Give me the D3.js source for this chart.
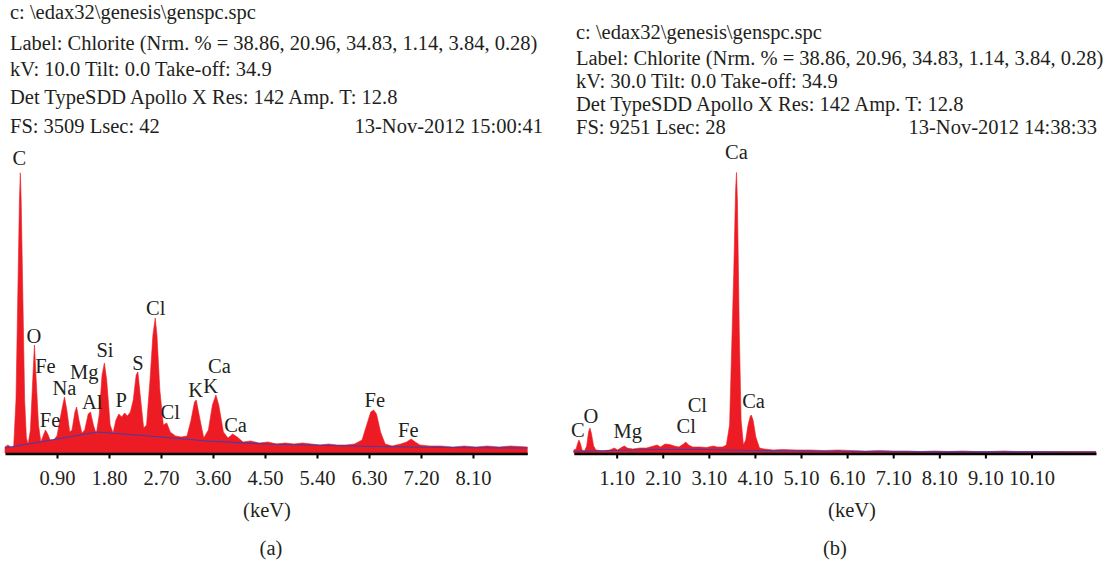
<!DOCTYPE html>
<html>
<head>
<meta charset="utf-8">
<script src="https://cdn.jsdelivr.net/npm/d3@7/dist/d3.min.js"></script>
<style>
  html, body { margin: 0; padding: 0; background: #fff; }
  svg text { font-family: "Liberation Serif", "DejaVu Serif", serif; fill: #231f20; }
</style>
</head>
<body>
<svg id="chart" width="1113" height="564"></svg>
<script>
// ---------- DATA ----------
// Panel (a) header text
const headerA = [
  "c: \\edax32\\genesis\\genspc.spc",
  "Label: Chlorite (Nrm. % = 38.86, 20.96, 34.83, 1.14, 3.84, 0.28)",
  "kV: 10.0 Tilt: 0.0 Take-off: 34.9",
  "Det TypeSDD Apollo X Res: 142 Amp. T: 12.8",
  "FS: 3509 Lsec: 42"
];
const dateA = "13-Nov-2012 15:00:41";
const headerB = [
  "c: \\edax32\\genesis\\genspc.spc",
  "Label: Chlorite (Nrm. % = 38.86, 20.96, 34.83, 1.14, 3.84, 0.28)",
  "kV: 30.0 Tilt: 0.0 Take-off: 34.9",
  "Det TypeSDD Apollo X Res: 142 Amp. T: 12.8",
  "FS: 9251 Lsec: 28"
];
const dateB = "13-Nov-2012 14:38:33";

// Tick labels (keV)
const ticksA = [0.90, 1.80, 2.70, 3.60, 4.50, 5.40, 6.30, 7.20, 8.10];
const ticksB = [1.10, 2.10, 3.10, 4.10, 5.10, 6.10, 7.10, 8.10, 9.10, 10.10];
const fullScaleA = 3509;
const fullScaleB = 9251;
const domainA = [0, 9.04];
const domainB = [0.17, 11.5];

// Spectrum (a): [keV, counts]
const spectrumA = [
  [0.00,72],[0.05,96],[0.10,72],[0.15,72],[0.19,636],[0.22,1836],[0.25,3036],[0.265,3360],
  [0.28,3036],[0.31,1836],[0.34,636],[0.37,180],[0.40,108],[0.44,276],[0.48,876],[0.51,1296],
  [0.54,876],[0.58,336],[0.62,132],[0.66,204],[0.70,276],[0.74,228],[0.78,156],[0.84,156],
  [0.90,204],[0.95,396],[1.00,576],[1.03,672],[1.07,516],[1.12,252],[1.16,276],[1.21,492],
  [1.24,552],[1.28,396],[1.33,240],[1.38,276],[1.44,468],[1.48,492],[1.53,336],[1.58,228],
  [1.63,456],[1.68,936],[1.72,1080],[1.76,876],[1.82,336],[1.87,240],[1.92,396],[1.97,468],
  [2.02,432],[2.07,480],[2.12,444],[2.17,492],[2.22,636],[2.27,936],[2.30,972],[2.34,696],
  [2.40,300],[2.45,336],[2.51,876],[2.56,1416],[2.60,1620],[2.63,1416],[2.68,756],[2.74,336],
  [2.80,360],[2.86,252],[2.95,204],[3.05,192],[3.15,204],[3.22,396],[3.28,612],[3.31,636],
  [3.36,456],[3.44,180],[3.52,276],[3.59,576],[3.65,696],[3.70,576],[3.78,252],[3.86,180],
  [3.94,228],[4.02,192],[4.12,132],[4.25,144],[4.40,120],[4.55,132],[4.70,108],[4.85,120],
  [5.00,108],[5.15,120],[5.30,108],[5.45,96],[5.60,108],[5.75,96],[5.90,96],[6.05,108],
  [6.18,156],[6.26,336],[6.33,492],[6.38,516],[6.43,468],[6.50,252],[6.58,108],[6.70,84],
  [6.85,108],[6.95,132],[7.03,168],[7.10,132],[7.18,96],[7.35,84],[7.55,84],[7.75,72],
  [7.95,84],[8.15,72],[8.35,84],[8.55,72],[8.75,84],[9.04,72]
];
// Background fit (a): [keV, counts]
const backgroundA = [
  [0.00,60],[0.50,120],[1.00,180],[1.59,252],[2.50,204],[3.50,144],[4.50,108],
  [6.00,84],[7.50,66],[9.04,60]
];
// Peak labels (a): [element, keV, counts]
const peaksA = [
  ["C",0.25,3450],["O",0.50,1320],["Fe",0.70,960],["Na",1.03,700],["Mg",1.37,890],
  ["Si",1.73,1150],["S",2.30,1000],["Cl",2.61,1650],["P",2.01,550],["Al",1.51,530],
  ["Fe",0.78,310],["Cl",2.86,410],["K",3.30,670],["K",3.56,720],["Ca",3.71,960],
  ["Ca",3.99,250],["Fe",6.40,550],["Fe",6.98,190]
];

// Spectrum (b): [keV, counts]
const spectrumB = [
  [0.17,95],[0.22,126],[0.25,284],[0.28,410],[0.31,316],[0.35,95],[0.40,63],[0.45,221],
  [0.49,663],[0.52,789],[0.55,631],[0.60,221],[0.65,95],[0.80,63],[0.95,95],[1.05,158],
  [1.12,95],[1.22,189],[1.27,221],[1.33,158],[1.45,126],[1.60,158],[1.75,158],[1.90,221],
  [1.98,253],[2.05,189],[2.15,284],[2.25,268],[2.35,221],[2.45,189],[2.55,284],[2.60,347],
  [2.66,253],[2.75,189],[2.90,189],[3.05,174],[3.20,221],[3.28,189],[3.40,189],[3.48,253],
  [3.55,884],[3.60,3567],[3.64,5683],[3.68,8303],[3.70,8871],[3.72,7987],[3.76,3883],
  [3.80,1042],[3.85,253],[3.90,410],[3.95,884],[4.00,1168],[4.02,1200],[4.06,1042],
  [4.12,505],[4.20,158],[4.30,126],[4.50,95],[4.70,110],[5.00,95],[5.30,95],[5.60,79],
  [5.90,95],[6.20,79],[6.50,63],[6.80,79],[7.10,63],[7.40,63],[7.70,47],[8.00,63],
  [8.30,47],[8.60,63],[8.90,47],[9.20,47],[9.50,63],[9.80,47],[10.10,47],[10.40,47],
  [10.70,47],[11.00,47],[11.50,47]
];
const backgroundB = [
  [0.17,47],[1.00,79],[2.00,110],[3.00,110],[4.00,79],[6.00,47],[8.00,38],[11.50,32]
];
const peaksB = [
  ["C",0.26,500],["O",0.54,950],["Mg",1.34,470],["Cl",2.85,1300],["Cl",2.61,630],
  ["Ca",3.70,9300],["Ca",4.07,1420]
];

// ---------- DRAWING ----------
const svg = d3.select("#chart");
const RED = "#ed1c24", BLUE = "#3c3fb0", FS = 20.5;

function panel(opts) {
  const g = svg.append("g");
  const x = d3.scaleLinear().domain(opts.domain).range(opts.xRange);
  const y = d3.scaleLinear().domain([0, opts.fullScale]).range([453, 160.5]);

  // header
  g.selectAll("text.hdr").data(opts.header).join("text")
    .attr("class", "hdr")
    .attr("x", opts.hx)
    .attr("y", (d, i) => opts.hy[i])
    .style("font-size", FS + "px")
    .text(d => d);
  g.append("text")
    .attr("x", opts.dateX).attr("y", opts.hy[4])
    .attr("text-anchor", "end")
    .style("font-size", FS + "px")
    .text(opts.date);

  // spectrum
  const area = d3.area().x(d => x(d[0])).y0(y(0)).y1(d => y(d[1]));
  g.append("path").datum(opts.spectrum)
    .attr("d", area).attr("fill", RED).attr("stroke", RED).attr("stroke-width", 0.6);

  // background
  const line = d3.line().x(d => x(d[0])).y(d => y(d[1]));
  g.append("path").datum(opts.background)
    .attr("d", line).attr("fill", "none").attr("stroke", BLUE).attr("stroke-width", 1.2);

  // peak labels
  g.selectAll("text.pk").data(opts.peaks).join("text")
    .attr("class", "pk")
    .attr("x", d => x(d[1]))
    .attr("y", d => y(d[2]))
    .attr("text-anchor", "middle")
    .style("font-size", FS + "px")
    .text(d => d[0]);

  // axis
  const ax = g.append("g").attr("transform", "translate(0,453.5)")
    .call(d3.axisBottom(x).tickValues(opts.ticks).tickFormat(d3.format(".2f"))
      .tickSizeInner(5).tickSizeOuter(0));
  ax.select(".domain").attr("stroke", "#000").attr("stroke-width", 2.6);
  ax.selectAll(".tick line").attr("stroke", "#000").attr("stroke-width", 2);
  ax.selectAll(".tick text")
    .attr("y", 31.5).attr("dy", null)
    .style("font-size", FS + "px")
    .style("font-family", '"Liberation Serif", serif')
    .attr("fill", "#231f20");

  // axis title and panel label
  g.append("text").attr("x", opts.titleX).attr("y", 517)
    .attr("text-anchor", "middle").style("font-size", FS + "px").text("(keV)");
  g.append("text").attr("x", opts.labelX).attr("y", 555)
    .attr("text-anchor", "middle").style("font-size", FS + "px").text(opts.label);
}

panel({
  domain: domainA, xRange: [5, 527.3], fullScale: fullScaleA,
  header: headerA, hx: 10, hy: [19, 50, 76, 104, 133], date: dateA, dateX: 543,
  spectrum: spectrumA, background: backgroundA, peaks: peaksA, ticks: ticksA,
  titleX: 267, labelX: 271, label: "(a)"
});
panel({
  domain: domainB, xRange: [573.8, 1096], fullScale: fullScaleB,
  header: headerB, hx: 576, hy: [39, 65, 88, 111, 134], date: dateB, dateX: 1097,
  spectrum: spectrumB, background: backgroundB, peaks: peaksB, ticks: ticksB,
  titleX: 852, labelX: 835, label: "(b)"
});
</script>
</body>
</html>
